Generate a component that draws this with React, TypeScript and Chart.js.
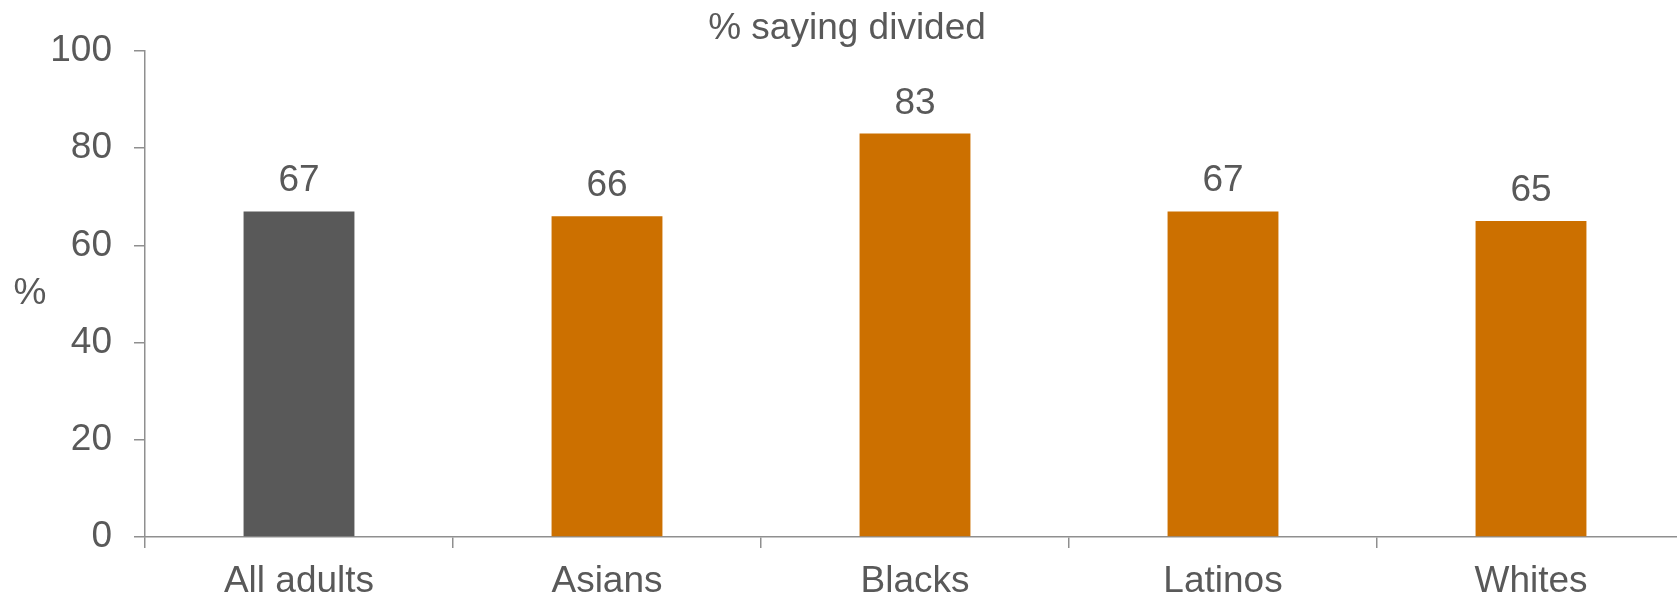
import React, { useEffect, useRef } from "react";
import { Chart, registerables } from "chart.js";

Chart.register(...registerables);

const categories = ["All adults", "Asians", "Blacks", "Latinos", "Whites"];
const values = [67, 66, 83, 67, 65];
const barColors = ["#595959", "#CC7000", "#CC7000", "#CC7000", "#CC7000"];
const yTicks = [0, 20, 40, 60, 80, 100];
const titleText = "% saying divided";
const yUnit = "%";

const FONT = "'Liberation Sans', Arial, sans-serif";
const TEXT = "#595959";
const AXIS = "#8f8f8f";
const FS = 37;

const overlay = {
  id: "overlay",
  afterDatasetsDraw(chart: any) {
    const ctx = chart.ctx;
    const meta = chart.getDatasetMeta(0);
    ctx.save();
    ctx.fillStyle = TEXT;
    ctx.font = `${FS}px ${FONT}`;
    ctx.textAlign = "center";
    ctx.textBaseline = "alphabetic";
    meta.data.forEach((bar: any, i: number) => {
      ctx.fillText(String(values[i]), bar.x, bar.y - 20);
    });
    // title
    ctx.fillText(titleText, 847, chart.chartArea.top - 12);
    // unit label
    ctx.textBaseline = "middle";
    ctx.fillText(yUnit, 30, (chart.chartArea.top + chart.chartArea.bottom) / 2);
    ctx.restore();
  },
};

export default function App() {
  const ref = useRef<HTMLCanvasElement>(null);
  useEffect(() => {
    if (!ref.current) return;
    const chart = new Chart(ref.current, {
      type: "bar",
      data: {
        labels: categories,
        datasets: [
          {
            data: values,
            backgroundColor: barColors,
            barPercentage: 0.36,
            categoryPercentage: 1,
          },
        ],
      },
      options: {
        responsive: false,
        animation: false,
        layout: { padding: { top: 51, left: 0, right: 0, bottom: 0 } },
        plugins: {
          legend: { display: false },
          tooltip: { enabled: false },
          title: { display: false },
        },
        scales: {
          x: {
            afterFit: (s: any) => {
              s.height = 60;
            },
            grid: {
              display: true,
              drawOnChartArea: false,
              drawTicks: true,
              tickLength: 11,
              color: AXIS,
              lineWidth: 1.5,
              offset: true,
            },
            border: { display: true, color: AXIS, width: 1.5 },
            ticks: {
              color: TEXT,
              font: { family: FONT, size: FS },
              padding: 12,
              maxRotation: 0,
              autoSkip: false,
            },
          },
          y: {
            min: 0,
            max: 100,
            afterFit: (s: any) => {
              s.width = 145;
            },
            afterBuildTicks: (s: any) => {
              s.ticks = yTicks.map((v) => ({ value: v }));
            },
            grid: {
              display: true,
              drawOnChartArea: false,
              drawTicks: true,
              tickLength: 11,
              color: AXIS,
              lineWidth: 1.5,
            },
            border: { display: true, color: AXIS, width: 1.5 },
            ticks: {
              color: TEXT,
              font: { family: FONT, size: FS },
              padding: 22,
              stepSize: 20,
            },
          },
        },
      },
      plugins: [overlay],
    });
    return () => chart.destroy();
  }, []);
  return (
    <div
      style={{
        position: "absolute",
        left: 0,
        top: 0,
        width: 1677,
        height: 597,
        overflow: "hidden",
        background: "#fff",
      }}
    >
      <canvas ref={ref} width={1685} height={597} style={{ width: 1685, height: 597, display: "block" }} />
    </div>
  );
}
